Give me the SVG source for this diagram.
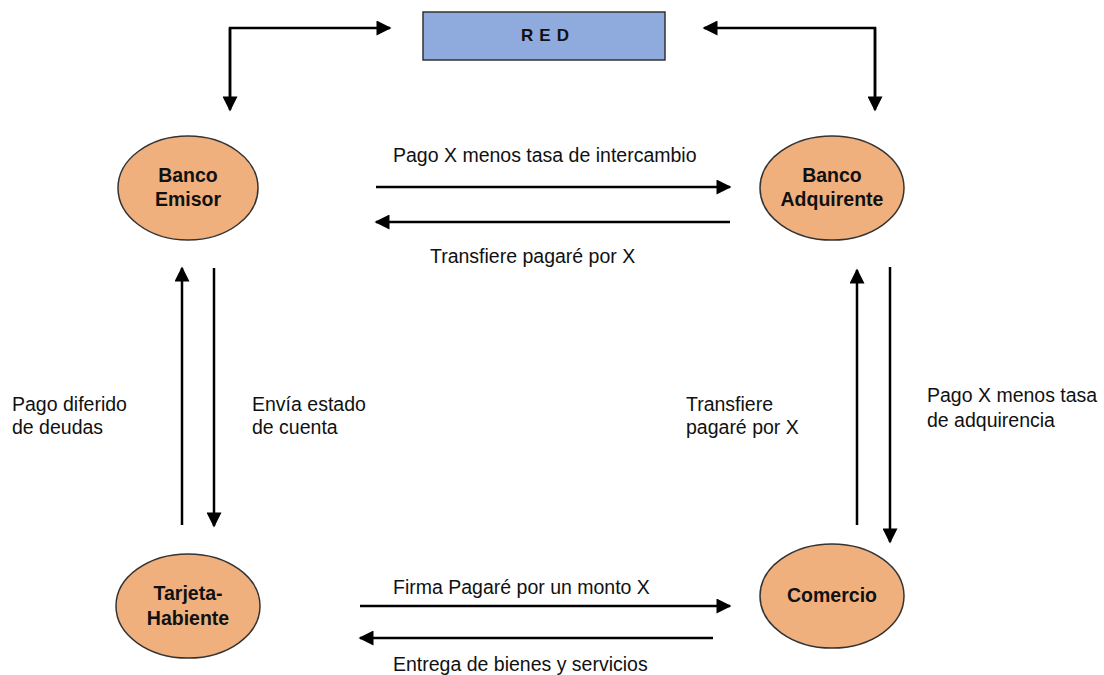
<svg xmlns="http://www.w3.org/2000/svg" width="1104" height="675" viewBox="0 0 1104 675">
<defs>
<marker id="ah" viewBox="0 0 10 10" refX="9" refY="5" markerWidth="6.5" markerHeight="6" markerUnits="strokeWidth" orient="auto">
<path d="M0,0 L10,5 L0,10 z" fill="#000"/>
</marker>
<style>
.node{fill:#F0B07E;stroke:#333;stroke-width:1.5}
.red{fill:#8FAADC;stroke:#333;stroke-width:1.5}
.nt{font-family:"Liberation Sans",Arial,sans-serif;font-weight:bold;font-size:19.5px;fill:#111;text-anchor:middle}
.rt{font-family:"Liberation Sans",Arial,sans-serif;font-weight:bold;font-size:17px;letter-spacing:6px;fill:#111;text-anchor:middle}
.lb{font-family:"Liberation Sans",Arial,sans-serif;font-size:19.5px;fill:#111}
.c{fill:none;stroke:#000;stroke-width:2.5;marker-end:url(#ah)}
</style>
</defs>
<rect width="1104" height="675" fill="#fff"/>
<g id="red">
<rect class="red" x="423" y="12" width="242" height="48"/>
<text class="rt" x="548" y="41">RED</text>
</g>
<g id="banco-emisor">
<ellipse class="node" cx="188" cy="188" rx="70" ry="52"/>
<text class="nt" x="188" y="182">Banco</text>
<text class="nt" x="188" y="206">Emisor</text>
</g>
<g id="banco-adquirente">
<ellipse class="node" cx="832" cy="188" rx="72" ry="52"/>
<text class="nt" x="832" y="182">Banco</text>
<text class="nt" x="832" y="206">Adquirente</text>
</g>
<g id="tarjeta-habiente">
<ellipse class="node" cx="188" cy="606" rx="72" ry="52"/>
<text class="nt" x="188" y="600">Tarjeta-</text>
<text class="nt" x="188" y="625">Habiente</text>
</g>
<g id="comercio">
<ellipse class="node" cx="832" cy="596" rx="72" ry="52"/>
<text class="nt" x="832" y="602">Comercio</text>
</g>
<g id="connectors">
<path class="c" d="M230,105 L230,28 L390,28"/>
<path class="c" d="M230,28 L230,110"/>
<path class="c" d="M875,105 L875,28 L704,28"/>
<path class="c" d="M875,28 L875,110"/>
<path class="c" d="M376,187 L730,187"/>
<path class="c" d="M730,222 L376,222"/>
<path class="c" d="M182,525 L182,268"/>
<path class="c" d="M214,268 L214,526"/>
<path class="c" d="M857,525 L857,270"/>
<path class="c" d="M890,267 L890,542"/>
<path class="c" d="M360,606 L730,606"/>
<path class="c" d="M713,638 L360,638"/>
</g>
<g id="labels">
<text class="lb" x="393" y="162">Pago X menos tasa de intercambio</text>
<text class="lb" x="430" y="263">Transfiere pagaré por X</text>
<text class="lb" x="12" y="411">Pago diferido</text>
<text class="lb" x="12" y="434">de deudas</text>
<text class="lb" x="252" y="411">Envía estado</text>
<text class="lb" x="252" y="434">de cuenta</text>
<text class="lb" x="686" y="411">Transfiere</text>
<text class="lb" x="686" y="434">pagaré por X</text>
<text class="lb" x="927" y="402">Pago X menos tasa</text>
<text class="lb" x="927" y="427">de adquirencia</text>
<text class="lb" x="393" y="594">Firma Pagaré por un monto X</text>
<text class="lb" x="393" y="671">Entrega de bienes y servicios</text>
</g>
</svg>
